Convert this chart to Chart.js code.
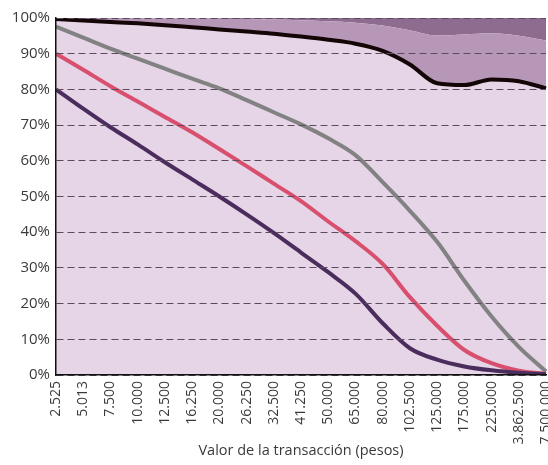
<!DOCTYPE html>
<html>
<head>
<meta charset="utf-8">
<script src="https://cdn.jsdelivr.net/npm/chart.js@4/dist/chart.umd.min.js"></script>
<style>
  html, body { margin: 0; padding: 0; background: #fff; }
  #wrap { width: 548px; height: 465px; }
</style>
</head>
<body>
<div id="wrap"><canvas id="chart"></canvas></div>
<script>
const labels = ["2.525", "5.013", "7.500", "10.000", "12.500", "16.250", "20.000", "26.250", "32.500", "41.250",
    "50.000", "65.000", "80.000", "102.500", "125.000", "175.000", "225.000", "3.862.500", "7.500.000"]

// curves, % of transactions
const purpleLine = [80, 74.6, 69.4, 64.6, 59.6, 54.8, 50, 45, 39.8, 34.3, 28.8, 22.8, 14.5, 7.5, 4.3, 2.4, 1.3, 0.6, 0.2]
const redLine = [90, 85.5, 80.9, 76.6, 72.3, 68, 63.3, 58.5, 53.6, 48.7, 43, 37.5, 31.1, 21.8, 13.8, 7, 3.3, 1.2, 0.3]
const grayLine = [97.6, 94.5, 91.4, 88.6, 85.8, 83, 80.3, 77, 73.6, 70.2, 66.3, 61.6, 54, 46, 37.3, 26.4, 16.4, 7.9, 1]
const blackLine = [99.7, 99.3, 98.9, 98.5, 98, 97.4, 96.8, 96.2, 95.6, 94.8, 93.9, 92.8, 90.8, 87, 81.7, 81.2, 82.8, 82.3, 80.3]
const middleBand = [100, 100, 100, 100, 99.9, 99.9, 99.8, 99.7, 99.6, 99.4, 99.1, 98.7, 97.9, 96.6, 95.1, 95.4, 95.7, 95, 93.7]
const topBand = [100, 100, 100, 100, 100, 100, 100, 100, 100, 100, 100, 100, 100, 100, 100, 100, 100, 100, 100]
const yTicks = [0, 10, 20, 30, 40, 50, 60, 70, 80, 90, 100]

const textColor = "#3a3a3a"
const fontFamily = "'Open Sans', sans-serif"

function lineSet(data, color, extra) {
    return Object.assign({
        data: data,
        borderColor: color,
        borderWidth: 4,
        pointRadius: 0,
        fill: false,
        cubicInterpolationMode: "monotone"
    }, extra)
}

new Chart(document.getElementById("chart"), {
    type: "line",
    data: {
        labels: labels,
        datasets: [
            lineSet(purpleLine, "#4a2d5c"),
            lineSet(redLine, "#d9506f"),
            lineSet(grayLine, "#828282"),
            lineSet(blackLine, "#140606", { fill: "origin", backgroundColor: "#e6d4e7" }),
            lineSet(middleBand, "rgba(0,0,0,0)", { borderWidth: 0, fill: "-1", backgroundColor: "#b797b8" }),
            lineSet(topBand, "rgba(0,0,0,0)", { borderWidth: 0, fill: "-1", backgroundColor: "#8e6c8f" })
        ]
    },
    options: {
        responsive: true,
        maintainAspectRatio: false,
        animation: false,
        layout: { padding: { top: 18, right: 2, bottom: 5, left: 0 } },
        plugins: {
            legend: { display: false },
            tooltip: { enabled: false },
            filler: { drawTime: "beforeDatasetsDraw" }
        },
        scales: {
            x: {
                offset: false,
                grid: { display: false, drawTicks: false },
                border: { display: true, color: "#111", width: 1.5, z: 2 },
                ticks: {
                    color: textColor,
                    autoSkip: false,
                    minRotation: 90,
                    maxRotation: 90,
                    padding: 6,
                    font: { family: fontFamily, size: 14 }
                },
                title: {
                    display: true,
                    text: "Valor de la transacción (pesos)",
                    color: textColor,
                    padding: { top: 2, bottom: 0 },
                    font: { family: fontFamily, size: 14.5 }
                },
                afterFit: function (scale) {
                    scale.height = 85
                    scale.paddingLeft = 0
                    scale.paddingRight = 0
                }
            },
            y: {
                min: 0,
                max: 100,
                afterBuildTicks: function (scale) {
                    scale.ticks = yTicks.map(v => ({ value: v }))
                },
                grid: {
                    z: 1,
                    color: "#5c4b5e",
                    lineWidth: 1,
                    drawTicks: false
                },
                border: { display: true, color: "#111", width: 1.5, dash: [7, 4], z: 2 },
                ticks: {
                    color: textColor,
                    padding: 6,
                    font: { family: fontFamily, size: 15 },
                    callback: function (value) {
                        return value + "%"
                    }
                },
                afterFit: function (scale) {
                    scale.width = 56
                    scale.paddingTop = 0
                    scale.paddingBottom = 0
                }
            }
        }
    }
})
</script>
</body>
</html>
